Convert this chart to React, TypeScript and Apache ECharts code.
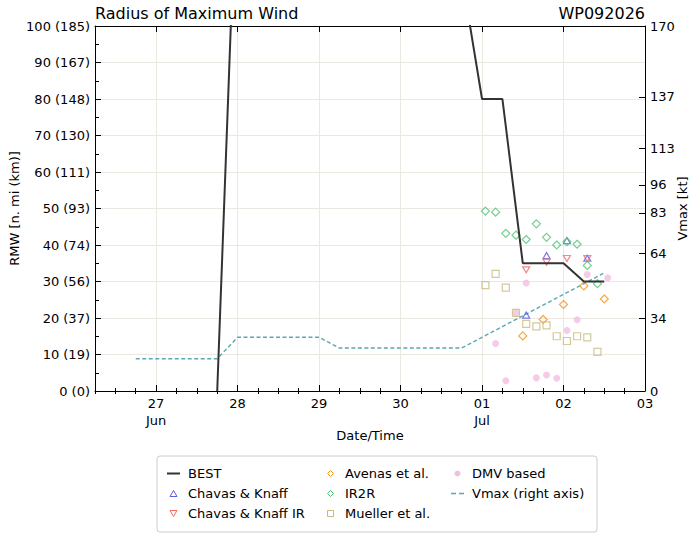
import React, { useEffect, useRef } from "react";
import * as echarts from "echarts";

const FONT = "DejaVu Sans";
const GRID = "#ebe8e1";

// time helpers: x values are days since 2026-06-26 00Z
const BASE = Date.UTC(2026, 5, 26);
const day = (s: string) => (Date.parse(s + ":00Z") - BASE) / 86400000;

// x-axis ticks
const xTickDays = [1, 2, 3, 4, 5, 6, 7];
const xTickLabels = ["27\nJun", "28", "29", "30", "01\nJul", "02", "03"];
const xMinorDays: number[] = [];
for (let d = 0.25; d <= 7.001; d += 0.25) if (Math.abs(d - Math.round(d)) > 0.01) xMinorDays.push(d);

// y-axis ticks
const rmwTicks = [0, 10, 20, 30, 40, 50, 60, 70, 80, 90, 100];
const rmwTickLabels = ["0 (0)", "10 (19)", "20 (37)", "30 (56)", "40 (74)", "50 (93)", "60 (111)", "70 (130)", "80 (148)", "90 (167)", "100 (185)"];
const vmaxTicks = [0, 34, 64, 83, 96, 113, 137, 170];

// BEST track RMW (n mi)
const bestTimes = ["2026-06-27T18:00", "2026-06-28T00:00", "2026-06-30T12:00", "2026-06-30T18:00", "2026-07-01T00:00", "2026-07-01T06:00", "2026-07-01T12:00", "2026-07-01T18:00", "2026-07-02T00:00", "2026-07-02T06:00", "2026-07-02T12:00"];
const bestRmw = [0, 150, 150, 114, 80, 80, 35, 35, 35, 30, 30];

// Vmax (kt)
const vmaxTimes = [
  "2026-06-26T18:00", "2026-06-27T00:00", "2026-06-27T06:00", "2026-06-27T12:00", "2026-06-27T18:00",
  "2026-06-28T00:00", "2026-06-28T06:00", "2026-06-28T12:00", "2026-06-28T18:00", "2026-06-29T00:00",
  "2026-06-29T06:00", "2026-06-29T12:00", "2026-06-29T18:00", "2026-06-30T00:00", "2026-06-30T06:00", "2026-06-30T12:00", "2026-06-30T18:00",
  "2026-07-01T00:00", "2026-07-01T06:00", "2026-07-01T12:00", "2026-07-01T18:00", "2026-07-02T00:00", "2026-07-02T06:00", "2026-07-02T12:00",
];
const vmaxValues = [15, 15, 15, 15, 15, 25, 25, 25, 25, 25, 20, 20, 20, 20, 20, 20, 20, 25, 30, 35, 40, 45, 50, 55];

// Objective estimates
const ckTimes = ["2026-07-01T13:00", "2026-07-01T19:00", "2026-07-02T01:00", "2026-07-02T07:00"];
const ckValues = [20.8, 37.1, 41.2, 36.4];
const ckirTimes = ["2026-07-01T13:00", "2026-07-01T19:00", "2026-07-02T01:00", "2026-07-02T07:00"];
const ckirValues = [33.2, 35.3, 36.3, 36.3];
const avenasTimes = ["2026-07-01T12:00", "2026-07-01T18:00", "2026-07-02T00:00", "2026-07-02T06:00", "2026-07-02T12:00"];
const avenasValues = [15.1, 19.6, 23.7, 28.8, 25.2];
const ir2rTimes = ["2026-07-01T01:00", "2026-07-01T04:00", "2026-07-01T07:00", "2026-07-01T10:00", "2026-07-01T13:00", "2026-07-01T16:00", "2026-07-01T19:00", "2026-07-01T22:00", "2026-07-02T01:00", "2026-07-02T04:00", "2026-07-02T07:00", "2026-07-02T10:00"];
const ir2rValues = [49.3, 49.0, 43.2, 42.7, 41.5, 45.8, 42.1, 40.0, 40.9, 40.2, 34.4, 29.4];
const muellerTimes = ["2026-07-01T01:00", "2026-07-01T04:00", "2026-07-01T07:00", "2026-07-01T10:00", "2026-07-01T13:00", "2026-07-01T16:00", "2026-07-01T19:00", "2026-07-01T22:00", "2026-07-02T01:00", "2026-07-02T04:00", "2026-07-02T07:00", "2026-07-02T10:00"];
const muellerValues = [29.0, 32.1, 28.3, 21.4, 18.4, 17.7, 18.0, 15.0, 13.7, 15.0, 14.7, 10.7];
const dmvTimes = ["2026-07-01T04:00", "2026-07-01T07:00", "2026-07-01T10:00", "2026-07-01T13:00", "2026-07-01T16:00", "2026-07-01T19:00", "2026-07-01T22:00", "2026-07-02T01:00", "2026-07-02T04:00", "2026-07-02T07:00", "2026-07-02T13:00"];
const dmvValues = [13.0, 2.8, 21.4, 29.6, 3.6, 4.4, 3.5, 16.6, 19.5, 31.9, 31.0];

const pairs = (ts: string[], vs: number[]) => ts.map((t, i) => [day(t), vs[i]]);

const C = {
  best: "#333333",
  ck: "#5b5be3",
  ckir: "#f26a6a",
  avenas: "#f39419",
  ir2r: "#52c279",
  mueller: "#c8bb82",
  dmv: "#f1bfe1",
  vmax: "#5aa8b4",
};

const ICON = {
  line: "path://M0,0H13V2H0Z",
  dash: "path://M0,0H5V1.4H0Z M8,0H13V1.4H8Z",
  up: "path://M5,0L10,8.66L0,8.66Z",
  down: "path://M0,0L10,0L5,8.66Z",
  diamond: "path://M4,0L8,4L4,8L0,4Z",
  square: "path://M0,0H8V8H0Z",
};

export default function App() {
  const ref = useRef<HTMLDivElement>(null);
  useEffect(() => {
    const chart = echarts.init(ref.current!, null, { renderer: "svg" });
    const txt = { fontFamily: FONT, fontSize: 13, color: "#000" };
    const axisLine = { show: true, onZero: false, lineStyle: { color: "#000", width: 1 } };
    const xCommon: any = { type: "value", min: 0.25, max: 7, gridIndex: 0 };
    const hollow = (color: string, symbol: string, size: any, rotate = 0, name = "") => ({
      type: "scatter",
      name,
      symbol,
      symbolSize: size,
      symbolRotate: rotate,
      itemStyle: { color: "rgba(255,255,255,0)", borderColor: color, borderWidth: 1.2 },
      z: 3,
    });
    const solidItem = (name: string, icon: string, color: string) => ({
      name,
      icon,
      itemStyle: { color, borderWidth: 0, opacity: 1 },
    });
    const hollowItem = (name: string, icon: string, color: string) => ({
      name,
      icon,
      itemStyle: { color: "rgba(255,255,255,0)", borderColor: color, borderWidth: 1, opacity: 1 },
    });
    const legendBase: any = {
      orient: "vertical",
      itemWidth: 13,
      itemHeight: 6,
      itemGap: 5,
      padding: 0,
      top: 466,
      selectedMode: false,
      symbolKeepAspect: true,
      textStyle: { ...txt, lineHeight: 15, padding: [0, 0, 0, 3] },
    };
    const option: any = {
      animation: false,
      grid: { left: 95, right: 55, top: 26, bottom: 148, containLabel: false, outerBoundsMode: "none" },
      graphic: {
        elements: [
          { type: "rect", z: 0, shape: { x: 157, y: 456, width: 440, height: 76, r: 3 }, style: { fill: "#fff", stroke: "#cccccc", lineWidth: 1 } },
          { type: "text", x: 95, y: 13, style: { text: "Radius of Maximum Wind", font: `16px '${FONT}'`, fill: "#000", textAlign: "left", textVerticalAlign: "middle" } },
          { type: "text", x: 645, y: 13, style: { text: "WP092026", font: `16px '${FONT}'`, fill: "#000", textAlign: "right", textVerticalAlign: "middle" } },
        ],
      },
      legend: [
        {
          ...legendBase,
          left: 167,
          data: [
            solidItem("BEST", ICON.line, C.best),
            hollowItem("Chavas & Knaff", ICON.up, C.ck),
            hollowItem("Chavas & Knaff IR", ICON.down, C.ckir),
          ],
        },
        {
          ...legendBase,
          left: 327,
          data: [
            hollowItem("Avenas et al.", ICON.diamond, C.avenas),
            hollowItem("IR2R", ICON.diamond, C.ir2r),
            hollowItem("Mueller et al.", ICON.square, C.mueller),
          ],
        },
        {
          ...legendBase,
          left: 451,
          data: [solidItem("DMV based", "circle", C.dmv), solidItem("Vmax (right axis)", ICON.dash, C.vmax)],
        },
      ],
      xAxis: [
        {
          ...xCommon,
          position: "bottom",
          axisLine,
          axisTick: { show: true, inside: true, length: 6, customValues: xTickDays, lineStyle: { color: "#000" } },
          axisLabel: {
            ...txt,
            customValues: xTickDays,
            margin: 4,
            lineHeight: 17,
            formatter: (v: number) => xTickLabels[xTickDays.indexOf(Math.round(v))] ?? "",
          },
          splitLine: { show: true, lineStyle: { color: GRID, width: 1 } },
          name: "Date/Time",
          nameLocation: "middle",
          nameGap: 38,
          nameMoveOverlap: false,
          nameTextStyle: txt,
        },
        {
          ...xCommon,
          position: "bottom",
          axisLine: { show: false },
          axisTick: { show: true, inside: true, length: 3, customValues: xMinorDays, lineStyle: { color: "#000" } },
          axisLabel: { show: false },
          splitLine: { show: false },
        },
        {
          ...xCommon,
          position: "top",
          axisLine,
          axisTick: { show: true, inside: true, length: 6, customValues: xTickDays, lineStyle: { color: "#000" } },
          axisLabel: { show: false },
          splitLine: { show: false },
        },
        {
          ...xCommon,
          position: "top",
          axisLine: { show: false },
          axisTick: { show: true, inside: true, length: 3, customValues: xMinorDays, lineStyle: { color: "#000" } },
          axisLabel: { show: false },
          splitLine: { show: false },
        },
      ],
      yAxis: [
        {
          type: "value",
          min: 0,
          max: 100,
          interval: 10,
          position: "left",
          axisLine,
          axisTick: { show: true, inside: true, length: 6, lineStyle: { color: "#000" } },
          minorTick: { show: true, splitNumber: 2, length: 4, lineStyle: { color: "#000" } },
          axisLabel: {
            ...txt,
            margin: 5,
            padding: [0, 0, 6, 0],
            formatter: (v: number) => rmwTickLabels[rmwTicks.indexOf(Math.round(v))] ?? "",
          },
          splitLine: { show: true, lineStyle: { color: GRID, width: 1 } },
          name: "RMW [n. mi (km)]",
          nameLocation: "middle",
          nameRotate: 90,
          nameGap: 74,
          nameMoveOverlap: false,
          nameTextStyle: txt,
        },
        {
          type: "value",
          min: 0,
          max: 170,
          position: "right",
          axisLine,
          axisTick: { show: true, inside: true, length: 6, customValues: vmaxTicks, lineStyle: { color: "#000" } },
          axisLabel: { ...txt, margin: 5, padding: [0, 0, 6, 0], customValues: vmaxTicks },
          splitLine: { show: false },
          name: "Vmax [kt]",
          nameLocation: "middle",
          nameRotate: 90,
          nameGap: 31,
          nameMoveOverlap: false,
          nameTextStyle: txt,
        },
      ],
      series: [
        {
          type: "line",
          name: "BEST",
          data: pairs(bestTimes, bestRmw),
          symbol: "none",
          lineStyle: { color: C.best, width: 2 },
          itemStyle: { color: C.best },
          clip: true,
          z: 4,
        },
        {
          ...hollow(C.ck, "triangle", [7, 6], 0, "Chavas & Knaff"),
          data: pairs(ckTimes, ckValues),
        },
        {
          ...hollow(C.ckir, "triangle", [7, 6], 180, "Chavas & Knaff IR"),
          data: pairs(ckirTimes, ckirValues),
        },
        {
          ...hollow(C.avenas, "diamond", [8, 8], 0, "Avenas et al."),
          data: pairs(avenasTimes, avenasValues),
        },
        {
          ...hollow(C.ir2r, "diamond", [8, 8], 0, "IR2R"),
          data: pairs(ir2rTimes, ir2rValues),
        },
        {
          ...hollow(C.mueller, "rect", [7, 7], 0, "Mueller et al."),
          data: pairs(muellerTimes, muellerValues),
        },
        {
          type: "scatter",
          name: "DMV based",
          symbol: "circle",
          symbolSize: 7,
          itemStyle: { color: C.dmv },
          data: pairs(dmvTimes, dmvValues),
          z: 2,
        },
        {
          type: "line",
          name: "Vmax (right axis)",
          yAxisIndex: 1,
          data: pairs(vmaxTimes, vmaxValues),
          symbol: "none",
          lineStyle: { color: C.vmax, width: 1.4, type: [4, 2.5] },
          itemStyle: { color: C.vmax },
          z: 3,
        },
      ],
    };
    chart.setOption(option);
    return () => chart.dispose();
  }, []);
  return <div ref={ref} style={{ width: 700, height: 539, position: "absolute", left: 0, top: 0 }} />;
}
